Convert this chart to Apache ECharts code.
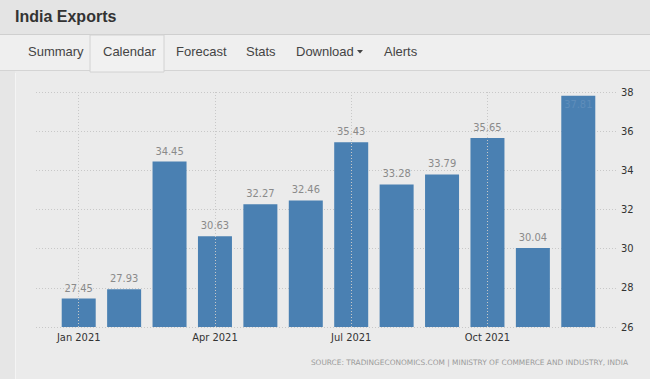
<!DOCTYPE html>
<html><head><meta charset="utf-8">
<script src="https://cdn.jsdelivr.net/npm/echarts@6/dist/echarts.min.js"></script>
<style>html,body{margin:0;padding:0;background:#ebebeb;}#c{width:650px;height:379px;}</style>
</head><body><div id="c"></div>
<script>
// ---- data ----
const categories = ['Jan 2021','Feb 2021','Mar 2021','Apr 2021','May 2021','Jun 2021','Jul 2021','Aug 2021','Sep 2021','Oct 2021','Nov 2021','Dec 2021'];
const exportsValues = [27.45, 27.93, 34.45, 30.63, 32.27, 32.46, 35.43, 33.28, 33.79, 35.65, 30.04, 37.81];
const yTickLabels = [26, 28, 30, 32, 34, 36, 38];
const pageTitle = 'India Exports';
const tabLabels = ['Summary', 'Calendar', 'Forecast', 'Stats', 'Download', 'Alerts'];
const sourceText = 'SOURCE: TRADINGECONOMICS.COM | MINISTRY OF COMMERCE AND INDUSTRY, INDIA';

// ---- layout ----
const tabX = [28, 103, 176, 246, 296, 384];
const yMin = yTickLabels[0], yMax = yTickLabels[yTickLabels.length - 1];
const yStep = yTickLabels[1] - yTickLabels[0];
const FONT = '"DejaVu Sans Condensed", "DejaVu Sans", sans-serif';
const UIFONT = '"Liberation Sans", Arial, sans-serif';

const chart = echarts.init(document.getElementById('c'), null, {renderer: 'svg'});

const graphics = [
  {type: 'rect', shape: {x: 0, y: 0, width: 650, height: 34}, style: {fill: '#e4e4e4'}, silent: true, z: -10},
  {type: 'rect', shape: {x: 0, y: 34, width: 650, height: 37}, style: {fill: '#efefef'}, silent: true, z: -10},
  {type: 'line', shape: {x1: 0, y1: 34.5, x2: 650, y2: 34.5}, style: {stroke: '#cfcfcf', lineWidth: 1}, silent: true, z: -9},
  {type: 'line', shape: {x1: 0, y1: 70.5, x2: 650, y2: 70.5}, style: {stroke: '#d4d4d4', lineWidth: 1}, silent: true, z: -9},
  {type: 'rect', shape: {x: 90, y: 35, width: 74, height: 37}, style: {fill: '#f1f1f1', stroke: '#d2d2d2', lineWidth: 1}, silent: true, z: -8},
  {type: 'rect', shape: {x: 0, y: 71, width: 15, height: 308}, style: {fill: '#e6e6e6'}, silent: true, z: -10},
  {type: 'line', shape: {x1: 15.5, y1: 73, x2: 15.5, y2: 379}, style: {stroke: '#f4f4f4', lineWidth: 1}, silent: true, z: -9},
  {type: 'text', left: 15, top: 8, style: {text: pageTitle, font: 'bold 16px ' + UIFONT, fill: '#333333'}},
  {type: 'text', right: 22, top: 359, style: {text: sourceText, font: '7.4px "DejaVu Sans", sans-serif', fill: '#9a9a9a'}}
];
tabLabels.forEach((t, i) => {
  graphics.push({type: 'text', left: tabX[i], top: 45, style: {text: t, font: '13px ' + UIFONT, fill: '#444444'}});
});
graphics.push({type: 'polygon', shape: {points: [[357, 50], [363, 50], [360, 53.5]]}, style: {fill: '#444444'}, silent: true});

const last = exportsValues.length - 1;
const barData = exportsValues.map((v, i) => i === last
  ? {value: v, label: {position: 'insideTop', distance: 3, color: '#5e8dba'}}
  : v);

// vertical guide lines at the labelled (quarter) categories
const guideCats = categories.filter((c, i) => i % 3 === 0);

chart.setOption({
  animation: false,
  backgroundColor: '#ebebeb',
  graphic: graphics,
  grid: [
    {left: 56, right: 49, top: 92, bottom: 52},
    {left: 36, right: 33, top: 92, bottom: 52}
  ],
  xAxis: [
    {
      type: 'category', gridIndex: 0, data: categories,
      axisLine: {show: false}, axisTick: {show: false},
      axisLabel: {interval: (i) => i % 3 === 0, color: '#333333', fontSize: 11, fontFamily: FONT, margin: 5},
      splitLine: {show: false}
    },
    {type: 'category', gridIndex: 1, data: categories, show: false}
  ],
  yAxis: [
    {type: 'value', gridIndex: 0, min: yMin, max: yMax, interval: yStep, show: false, splitLine: {show: false}},
    {
      type: 'value', gridIndex: 1, position: 'right', min: yMin, max: yMax, interval: yStep,
      axisLine: {show: false}, axisTick: {show: false},
      axisLabel: {color: '#333333', fontSize: 11, fontFamily: FONT, margin: 4},
      splitLine: {show: true, lineStyle: {color: '#c8c8c8', type: [1, 2], width: 1}}
    }
  ],
  series: [
    {
      type: 'line', xAxisIndex: 0, yAxisIndex: 0, data: [], z: 1, silent: true,
      markLine: {
        silent: true, symbol: ['none', 'none'], label: {show: false},
        lineStyle: {color: '#c8c8c8', type: [1, 2], width: 1},
        data: guideCats.map(c => ({xAxis: c}))
      }
    },
    {
      type: 'bar', xAxisIndex: 0, yAxisIndex: 0, data: barData, barWidth: 34,
      itemStyle: {color: '#4a80b2'},
      label: {show: true, position: 'top', distance: 5, color: '#8a8a8a', fontSize: 11, fontFamily: FONT},
      z: 3
    }
  ]
});
</script></body></html>
